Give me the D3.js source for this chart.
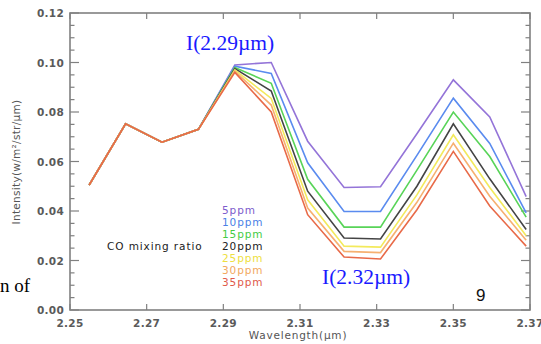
<!DOCTYPE html>
<html><head><meta charset="utf-8">
<script src="https://cdn.jsdelivr.net/npm/d3@7"></script>
<style>body{margin:0;background:#fff}svg{display:block}</style>
</head><body>
<svg id="c" width="541" height="344"></svg>
<script>
const wavelengths = [2.2550, 2.2645, 2.2740, 2.2835, 2.2930, 2.3025, 2.3120, 2.3215, 2.3310, 2.3405, 2.3500, 2.3595, 2.3690];
const seriesNames = ["5ppm","10ppm","15ppm","20ppm","25ppm","30ppm","35ppm"];
const ppm5  = [0.0505,0.0752,0.0678,0.0730,0.0990,0.1000,0.0682,0.0495,0.0498,0.0712,0.0930,0.0780,0.0458];
const ppm10 = [0.0505,0.0752,0.0678,0.0730,0.0985,0.0956,0.0595,0.0398,0.0398,0.0625,0.0856,0.0673,0.0392];
const ppm15 = [0.0505,0.0752,0.0678,0.0730,0.0980,0.0916,0.0528,0.0335,0.0335,0.0565,0.0800,0.0620,0.0375];
const ppm20 = [0.0505,0.0752,0.0678,0.0730,0.0975,0.0885,0.0480,0.0291,0.0287,0.0500,0.0752,0.0530,0.0325];
const ppm25 = [0.0505,0.0752,0.0678,0.0730,0.0970,0.0855,0.0445,0.0258,0.0254,0.0465,0.0708,0.0495,0.0300];
const ppm30 = [0.0505,0.0752,0.0678,0.0730,0.0965,0.0828,0.0412,0.0237,0.0232,0.0435,0.0674,0.0460,0.0282];
const ppm35 = [0.0505,0.0752,0.0678,0.0730,0.0960,0.0800,0.0385,0.0214,0.0206,0.0405,0.0641,0.0420,0.0258];
const seriesValues = [ppm5, ppm10, ppm15, ppm20, ppm25, ppm30, ppm35];
const lineColors = ["#9474d8","#5a8bef","#58d458","#444444","#f3ea5c","#f6b070","#e86a48"];
const labelColors = ["#7d5ccc","#4a7fe6","#44cc44","#222222","#eee040","#f2a860","#e05a4a"];
const xTicks = [2.25, 2.27, 2.29, 2.31, 2.33, 2.35, 2.37];
const yTicks = [0.00, 0.02, 0.04, 0.06, 0.08, 0.10, 0.12];
const yMinor = d3.range(0, 0.1201, 0.005);

const L = 70, R = 530, T = 13, B = 310;
const svg = d3.select("#c");
const x = d3.scaleLinear().domain([2.25, 2.37]).range([L, R]);
const y = d3.scaleLinear().domain([0, 0.12]).range([B, T]);
const axisCol = "#808080";
const tickFont = "DejaVu Sans, sans-serif";

svg.append("rect").attr("x", L).attr("y", T).attr("width", R - L).attr("height", B - T)
  .attr("fill", "none").attr("stroke", axisCol).attr("stroke-width", 1.6);

yMinor.forEach(v => {
  const major = yTicks.some(t => Math.abs(t - v) < 1e-9);
  const len = major ? 9 : 4.5;
  svg.append("line").attr("x1", L).attr("x2", L + len).attr("y1", y(v)).attr("y2", y(v))
    .attr("stroke", axisCol).attr("stroke-width", 1.2);
  svg.append("line").attr("x1", R).attr("x2", R - len).attr("y1", y(v)).attr("y2", y(v))
    .attr("stroke", axisCol).attr("stroke-width", 1.2);
});
yTicks.forEach(v => {
  svg.append("text").attr("x", L - 6).attr("y", y(v) + 4).attr("text-anchor", "end")
    .attr("font-family", tickFont).attr("font-size", 10.5).attr("font-weight", "bold")
    .attr("fill", "#5a5a5a").attr("letter-spacing", 0.3).text(v.toFixed(2));
});
xTicks.forEach(v => {
  svg.append("line").attr("x1", x(v)).attr("x2", x(v)).attr("y1", B).attr("y2", B - 6)
    .attr("stroke", axisCol).attr("stroke-width", 1.2);
  svg.append("line").attr("x1", x(v)).attr("x2", x(v)).attr("y1", T).attr("y2", T + 6)
    .attr("stroke", axisCol).attr("stroke-width", 1.2);
  svg.append("text").attr("x", x(v)).attr("y", B + 17).attr("text-anchor", "middle")
    .attr("font-family", tickFont).attr("font-size", 10.5).attr("font-weight", "bold")
    .attr("fill", "#5a5a5a").attr("letter-spacing", 0.3).text(v.toFixed(2));
});

svg.append("text").attr("x", 298).attr("y", 339).attr("text-anchor", "middle")
  .attr("font-family", tickFont).attr("font-size", 10.5).attr("fill", "#555").attr("letter-spacing", 0.8)
  .text("Wavelength(\u00b5m)");
svg.append("text").attr("transform", "translate(20,162) rotate(-90)").attr("text-anchor", "middle")
  .attr("font-family", tickFont).attr("font-size", 10.5).attr("fill", "#555").attr("letter-spacing", 0.3)
  .text("Intensity(w/m\u00b2/str/\u00b5m)");

const line = d3.line().x((d, i) => x(wavelengths[i])).y(d => y(d));
seriesValues.forEach((vals, k) => {
  svg.append("path").attr("d", line(vals)).attr("fill", "none")
    .attr("stroke", lineColors[k]).attr("stroke-width", 1.6).attr("stroke-linejoin", "miter");
});

svg.append("text").attr("x", 107).attr("y", 250).attr("font-family", tickFont)
  .attr("font-size", 10.5).attr("fill", "#222").attr("letter-spacing", 0.9).text("CO mixing ratio");
seriesNames.forEach((n, k) => {
  svg.append("text").attr("x", 222).attr("y", 213.5 + k * 12).attr("font-family", tickFont)
    .attr("font-size", 10.5).attr("fill", labelColors[k]).attr("letter-spacing", 0.9).text(n);
});

svg.append("text").attr("x", 186).attr("y", 50).attr("font-family", "Liberation Serif, serif")
  .attr("font-size", 21.5).attr("fill", "#1a1aff").text("I(2.29\u00b5m)");
svg.append("text").attr("x", 322).attr("y", 284).attr("font-family", "Liberation Serif, serif")
  .attr("font-size", 21.5).attr("fill", "#1a1aff").text("I(2.32\u00b5m)");
svg.append("text").attr("x", 30).attr("y", 292).attr("text-anchor", "end").attr("font-family", "Liberation Serif, serif")
  .attr("font-size", 19).attr("fill", "#000").text("n of");
svg.append("text").attr("x", 476).attr("y", 301).attr("font-family", "Liberation Sans, Arial, sans-serif")
  .attr("font-size", 17).attr("fill", "#111").text("9");
</script>
</body></html>
